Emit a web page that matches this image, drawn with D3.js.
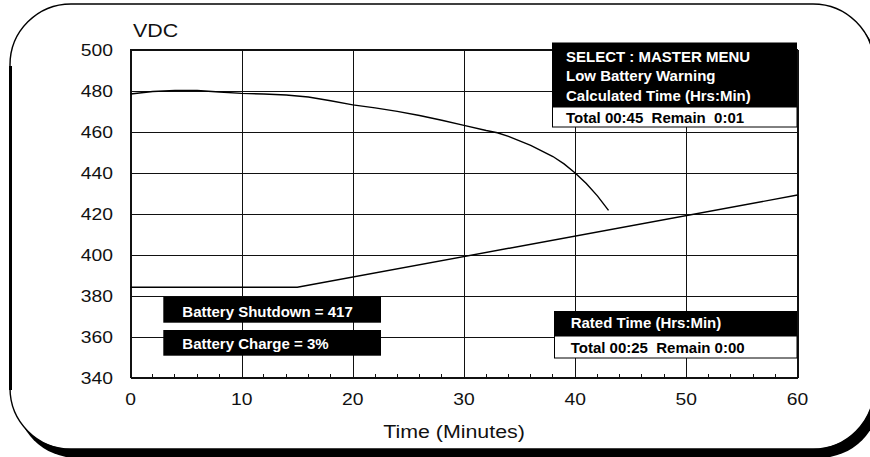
<!DOCTYPE html>
<html>
<head>
<meta charset="utf-8">
<script src="https://cdn.jsdelivr.net/npm/d3@7"></script>
<style>
  html, body { margin: 0; padding: 0; background: #fff; overflow: hidden; }
  svg { display: block; }
  text { font-family: "Liberation Sans", Arial, sans-serif; }
</style>
</head>
<body>
<svg id="chart" width="870" height="457"></svg>
<script>
// ---- Data ----
const xTicks = [0, 10, 20, 30, 40, 50, 60];
const yTicks = [340, 360, 380, 400, 420, 440, 460, 480, 500];
const minorTicks = [2, 4, 6, 8, 12, 14, 16, 18, 22, 24, 26, 28, 32, 34, 36, 38, 42, 44, 46, 48, 52, 54, 56, 58];

// Calculated (low battery warning) discharge curve
const calcMinutes = [0, 2, 4, 6, 8, 10, 12, 14, 16, 18, 20, 22, 24, 26, 28, 30, 32, 33, 34, 36, 38, 39, 40, 41, 42, 43];
const calcVolts   = [478.3, 479.5, 480, 480, 479.3, 478.6, 478.3, 477.8, 476.8, 475, 473, 471.5, 469.8, 467.8, 465.5, 463, 460.5, 459.4, 457.6, 453.2, 447.8, 444.2, 439.8, 434.6, 428.6, 421.5];

// Rated line
const ratedMinutes = [0, 15, 60];
const ratedVolts   = [384, 384, 429];

const yLabel = "VDC";
const xLabel = "Time (Minutes)";
const boxTopLines = ["SELECT : MASTER MENU", "Low Battery Warning", "Calculated Time (Hrs:Min)"];
const boxTopTotal = "Total 00:45  Remain  0:01";
const boxRatedTitle = "Rated Time (Hrs:Min)";
const boxRatedTotal = "Total 00:25  Remain 0:00";
const shutdownText = "Battery Shutdown = 417";
const chargeText = "Battery Charge = 3%";

// ---- Drawing ----
const svg = d3.select("#chart");
const x = d3.scaleLinear().domain([0, 60]).range([130.5, 797.5]);
const y = d3.scaleLinear().domain([340, 500]).range([377.5, 49.5]);
const SX = 1.15; // horizontal stretch of the regular text

// Outer rounded frame (right side just off-canvas) with drop shadow
function framePath(L, T, R, B, r, open) {
  const p = d3.path();
  p.moveTo(L + r, T);
  p.lineTo(R - r, T);
  p.arcTo(R, T, R, T + r, r);
  if (open) p.moveTo(R, B - r); else p.lineTo(R, B - r);
  p.arcTo(R, B, R - r, B, r);
  p.lineTo(L + r, B);
  p.arcTo(L, B, L, B - r, r);
  p.lineTo(L, T + r);
  p.arcTo(L, T, L + r, T, r);
  if (!open) p.closePath();
  return p.toString();
}
svg.append("path").attr("d", framePath(16, 12, 880, 458, 61, false)).attr("fill", "#000");
svg.append("path").attr("d", framePath(10, 4, 874, 449, 61, false)).attr("fill", "#fff");
svg.append("path").attr("d", framePath(10, 4, 874, 449, 61, true))
  .attr("fill", "none").attr("stroke", "#000").attr("stroke-width", 1.4);
svg.append("line").attr("x1", 10.5).attr("x2", 10.5).attr("y1", 66).attr("y2", 390)
  .attr("stroke", "#000").attr("stroke-width", 3);

const g = svg.append("g");

// Gridlines via axes
g.append("g").attr("transform", `translate(${x(0)},0)`)
  .call(d3.axisLeft(y).tickValues(yTicks).tickSize(-(x(60) - x(0))).tickFormat(""));
g.append("g").attr("transform", `translate(0,${y(340)})`)
  .call(d3.axisBottom(x).tickValues(xTicks).tickSize(-(y(340) - y(500))).tickFormat(""));
g.selectAll(".domain").remove();
g.selectAll(".tick line").attr("stroke", "#111").attr("stroke-width", 1).attr("shape-rendering", "crispEdges");

// Minor ticks on bottom axis
g.append("g").selectAll("line").data(minorTicks).join("line")
  .attr("x1", d => x(d)).attr("x2", d => x(d))
  .attr("y1", y(340)).attr("y2", y(340) - 4)
  .attr("stroke", "#111").attr("shape-rendering", "crispEdges");

// Plot border
g.append("rect").attr("x", x(0)).attr("y", y(500))
  .attr("width", x(60) - x(0)).attr("height", y(340) - y(500))
  .attr("fill", "none").attr("stroke", "#111").attr("stroke-width", 1).attr("shape-rendering", "crispEdges");

// Tick labels
g.append("g").selectAll("text").data(yTicks).join("text")
  .attr("transform", d => `translate(113,${y(d) + 6}) scale(${SX},1)`)
  .attr("text-anchor", "end").attr("font-size", 16.8).attr("fill", "#111")
  .text(d => d);
g.append("g").selectAll("text").data(xTicks).join("text")
  .attr("transform", d => `translate(${x(d)},405) scale(${SX},1)`)
  .attr("text-anchor", "middle").attr("font-size", 16.8).attr("fill", "#111")
  .text(d => d);

// Axis titles
g.append("text").attr("transform", `translate(133,37) scale(${SX},1)`)
  .attr("font-size", 18.6).attr("fill", "#111").text(yLabel);
g.append("text").attr("transform", `translate(454,438) scale(${SX},1)`)
  .attr("text-anchor", "middle").attr("font-size", 18.6).attr("fill", "#111").text(xLabel);

// Lines
const line = d3.line().x(d => x(d[0])).y(d => y(d[1]));
g.append("path").datum(d3.zip(calcMinutes, calcVolts)).attr("d", line)
  .attr("fill", "none").attr("stroke", "#000").attr("stroke-width", 1.4);
g.append("path").datum(d3.zip(ratedMinutes, ratedVolts)).attr("d", line)
  .attr("fill", "none").attr("stroke", "#000").attr("stroke-width", 1.4);

// Boxes
function boldText(sel, tx, ty, str, color) {
  return sel.append("text").attr("x", tx).attr("y", ty)
    .attr("font-size", 15).attr("font-weight", "bold").attr("fill", color)
    .attr("xml:space", "preserve").style("white-space", "pre").text(str);
}
// Top-right box
g.append("rect").attr("x", 552).attr("y", 42.5).attr("width", 245).attr("height", 64.5).attr("fill", "#000");
g.append("rect").attr("x", 552.5).attr("y", 107).attr("width", 244.5).attr("height", 20)
  .attr("fill", "#fff").attr("stroke", "#000").attr("stroke-width", 1);
boxTopLines.forEach((s, i) => boldText(g, 566, 61.7 + i * 19.5, s, "#fff"));
boldText(g, 566, 122.7, boxTopTotal, "#000");

// Rated box
g.append("rect").attr("x", 554).attr("y", 311).attr("width", 243).attr("height", 25).attr("fill", "#000");
g.append("rect").attr("x", 554.5).attr("y", 336).attr("width", 242.5).attr("height", 22)
  .attr("fill", "#fff").attr("stroke", "#000").attr("stroke-width", 1);
boldText(g, 570.7, 328.3, boxRatedTitle, "#fff");
boldText(g, 570.7, 353.3, boxRatedTotal, "#000");

// Battery boxes
g.append("rect").attr("x", 163.3).attr("y", 296.7).attr("width", 217.7).attr("height", 26).attr("fill", "#000");
g.append("rect").attr("x", 163.3).attr("y", 330).attr("width", 217.7).attr("height", 25.7).attr("fill", "#000");
boldText(g, 182.3, 316.7, shutdownText, "#fff");
boldText(g, 182.3, 349, chargeText, "#fff");
</script>
</body>
</html>
